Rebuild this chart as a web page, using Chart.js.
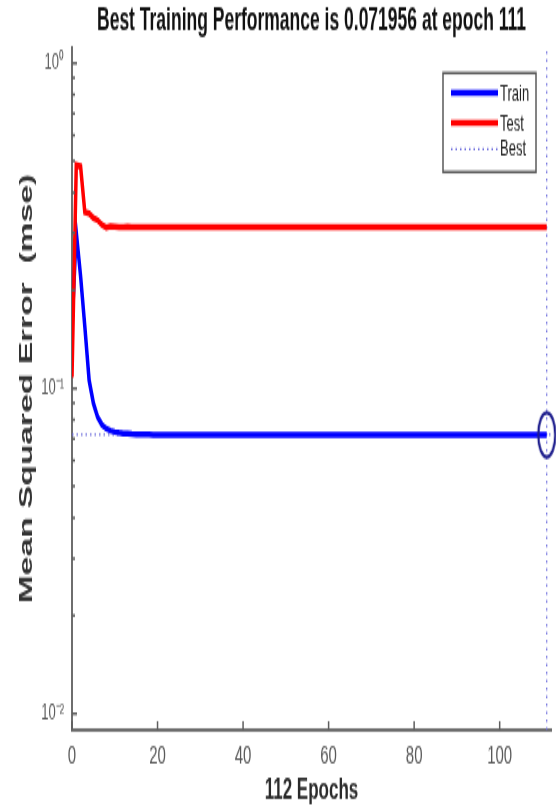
<!DOCTYPE html>
<html>
<head>
<meta charset="utf-8">
<title>Best Training Performance</title>
<script src="https://cdn.jsdelivr.net/npm/chart.js@4.4.1/dist/chart.umd.min.js"></script>
<style>
  html, body { margin: 0; padding: 0; background: #ffffff; }
</style>
</head>
<body>
<!-- the figure is laid out on a 556x456 canvas and shown stretched to 556x806 -->
<canvas id="perf" width="556" height="456" style="display:block;width:556px;height:806px;"></canvas>
<script>
// Mean squared error per epoch (epochs 0..111)
const trainPerf = [
  0.154, 0.302, 0.222, 0.155, 0.106, 0.090, 0.0815, 0.0772, 0.0752, 0.0741,
  0.0734, 0.0730, 0.0727, 0.0725, 0.0723, 0.0722, 0.0722, 0.0721, 0.0721, 0.0720,
  0.0720, 0.0720, 0.0720, 0.0720, 0.0720, 0.0720, 0.0720, 0.0720, 0.0720, 0.0720,
  0.0720, 0.0720, 0.0720, 0.0720, 0.0720, 0.07198, 0.07198, 0.07198, 0.07198, 0.07198,
  0.07198, 0.07198, 0.07198, 0.07198, 0.07198, 0.07198, 0.07198, 0.07198, 0.07198, 0.07198,
  0.07198, 0.07198, 0.07198, 0.07198, 0.07198, 0.07198, 0.07198, 0.07198, 0.07198, 0.07198,
  0.07197, 0.07197, 0.07197, 0.07197, 0.07197, 0.07197, 0.07197, 0.07197, 0.07197, 0.07197,
  0.07197, 0.07197, 0.07197, 0.07197, 0.07197, 0.07197, 0.07197, 0.07197, 0.07197, 0.07197,
  0.07197, 0.07197, 0.07197, 0.07197, 0.07197, 0.07197, 0.07197, 0.07197, 0.07197, 0.07197,
  0.07196, 0.07196, 0.07196, 0.07196, 0.07196, 0.07196, 0.07196, 0.07196, 0.07196, 0.07196,
  0.07196, 0.07196, 0.07196, 0.07196, 0.07196, 0.07196, 0.07196, 0.07196, 0.07196, 0.07196,
  0.07196, 0.071956
];
const testPerf = [
  0.108, 0.486, 0.482, 0.348, 0.345, 0.334, 0.329, 0.318, 0.312, 0.315,
  0.314, 0.313, 0.313, 0.314, 0.313, 0.313, 0.313, 0.313, 0.313, 0.313,
  0.313, 0.313, 0.313, 0.313, 0.313, 0.313, 0.313, 0.313, 0.313, 0.313,
  0.313, 0.313, 0.313, 0.313, 0.313, 0.313, 0.313, 0.313, 0.313, 0.313,
  0.313, 0.313, 0.313, 0.313, 0.313, 0.313, 0.313, 0.313, 0.313, 0.313,
  0.313, 0.313, 0.313, 0.313, 0.313, 0.313, 0.313, 0.313, 0.313, 0.313,
  0.313, 0.313, 0.313, 0.313, 0.313, 0.313, 0.313, 0.313, 0.313, 0.313,
  0.313, 0.313, 0.313, 0.313, 0.313, 0.313, 0.313, 0.313, 0.313, 0.313,
  0.313, 0.313, 0.313, 0.313, 0.313, 0.313, 0.313, 0.313, 0.313, 0.313,
  0.313, 0.313, 0.313, 0.313, 0.313, 0.313, 0.313, 0.313, 0.313, 0.313,
  0.313, 0.313, 0.313, 0.313, 0.313, 0.313, 0.313, 0.313, 0.313, 0.313,
  0.313, 0.313
];
const bestEpoch = 111;
const bestPerf = 0.071956;
const epochCount = 112;

// Axis ticks and limits
const xTicks = [0, 20, 40, 60, 80, 100];
const yMajorTicks = [0.01, 0.1, 1];
const yMajorLabels = ['10\u207B\u00B2', '10\u207B\u00B9', '10\u2070'];
const yMinorTicks = [0.02, 0.03, 0.04, 0.05, 0.06, 0.07, 0.08, 0.09,
                     0.2, 0.3, 0.4, 0.5, 0.6, 0.7, 0.8, 0.9];
const yLimits = [0.0089, 1.12];

const legendNames = ['Train', 'Test', 'Best'];

const FONT = "'Liberation Sans', Arial, Helvetica, sans-serif";
const BEST_COLOR = '#6c6cdc';

const toPoints = arr => arr.map((v, i) => ({ x: i, y: v }));

// open ellipse used as the best-epoch marker
const ring = document.createElement('canvas');
ring.width = 22; ring.height = 30;
(() => {
  const c = ring.getContext('2d');
  c.strokeStyle = '#1c1c8c';
  c.lineWidth = 2.2;
  c.beginPath();
  c.ellipse(11, 15, 8.5, 12.5, 0, 0, Math.PI * 2);
  c.stroke();
})();

// inward tick marks on both axes
const inwardTicks = {
  id: 'inwardTicks',
  afterDatasetsDraw(chart) {
    const { ctx, chartArea: a, scales: { x, y } } = chart;
    ctx.save();
    ctx.strokeStyle = '#5e5e5e';
    ctx.lineWidth = 1.5;
    ctx.beginPath();
    xTicks.forEach(v => {
      const px = x.getPixelForValue(v);
      ctx.moveTo(px, a.bottom); ctx.lineTo(px, a.bottom - 5);
    });
    yMajorTicks.forEach(v => {
      const py = y.getPixelForValue(v);
      ctx.moveTo(a.left, py); ctx.lineTo(a.left + 5, py);
    });
    yMinorTicks.forEach(v => {
      const py = y.getPixelForValue(v);
      ctx.moveTo(a.left, py); ctx.lineTo(a.left + 3, py);
    });
    ctx.stroke();
    ctx.restore();
  }
};

// boxed legend in the upper right corner of the axes
const boxLegend = {
  id: 'boxLegend',
  afterDraw(chart) {
    const { ctx, chartArea: a } = chart;
    const box = { x: a.right - 108, y: a.top + 14.7, w: 93, h: 56 };
    ctx.save();
    ctx.fillStyle = '#ffffff';
    ctx.fillRect(box.x, box.y, box.w, box.h);
    ctx.strokeStyle = '#5a5a5a';
    ctx.lineWidth = 1.5;
    ctx.strokeRect(box.x, box.y, box.w, box.h);
    const rows = [11.3, 28.3, 43];
    legendNames.forEach((name, i) => {
      const ds = chart.data.datasets.find(d => d.label === name);
      const yy = box.y + rows[i];
      ctx.beginPath();
      ctx.strokeStyle = ds.borderColor;
      ctx.lineWidth = ds.borderWidth;
      ctx.setLineDash(ds.borderDash || []);
      ctx.moveTo(box.x + 8, yy);
      ctx.lineTo(box.x + 55, yy);
      ctx.stroke();
      ctx.setLineDash([]);
      ctx.fillStyle = '#222222';
      ctx.font = '13px ' + FONT;
      ctx.textAlign = 'left';
      ctx.textBaseline = 'middle';
      ctx.fillText(name, box.x + 57, yy + 0.5);
    });
    ctx.restore();
  }
};

new Chart(document.getElementById('perf'), {
  type: 'line',
  data: {
    datasets: [
      {
        label: 'Test',
        data: toPoints(testPerf),
        borderColor: '#ff0000',
        borderWidth: 3.5,
        pointRadius: 0,
        tension: 0,
        order: 1
      },
      {
        label: 'Train',
        data: toPoints(trainPerf),
        borderColor: '#0000ff',
        borderWidth: 3.5,
        pointRadius: 0,
        tension: 0,
        order: 2
      },
      {
        label: 'Best',
        data: [{ x: 0, y: bestPerf }, { x: epochCount, y: bestPerf }],
        borderColor: BEST_COLOR,
        borderWidth: 1.2,
        borderDash: [1.5, 3],
        pointRadius: 0,
        order: 3
      },
      {
        label: 'Best epoch',
        data: [{ x: bestEpoch, y: yLimits[0] }, { x: bestEpoch, y: yLimits[1] }],
        borderColor: BEST_COLOR,
        borderWidth: 1.2,
        borderDash: [1.5, 3],
        pointRadius: 0,
        order: 3
      },
      {
        label: 'Best point',
        data: [{ x: bestEpoch, y: bestPerf }],
        showLine: false,
        pointStyle: ring,
        pointRadius: 10,
        borderColor: '#1c1c8c',
        clip: false,
        order: 0
      }
    ]
  },
  options: {
    responsive: false,
    devicePixelRatio: 1,
    animation: false,
    events: [],
    layout: { autoPadding: false, padding: { left: 0, right: 5, top: 0, bottom: 0 } },
    plugins: {
      legend: { display: false },
      tooltip: { enabled: false },
      title: {
        display: true,
        text: 'Best Training Performance is ' + bestPerf.toFixed(6) + ' at epoch ' + bestEpoch,
        fullSize: false,
        color: '#111111',
        font: { family: FONT, size: 17.5, weight: 'bold', lineHeight: 1.2 },
        padding: { top: 2, bottom: 3.6 }
      }
    },
    scales: {
      x: {
        type: 'linear',
        min: 0,
        max: epochCount,
        afterBuildTicks: s => { s.ticks = xTicks.map(v => ({ value: v })); },
        afterFit: s => { s.height = 43; s.paddingLeft = 0; s.paddingRight = 0; },
        grid: { display: false, drawTicks: false },
        border: { display: true, color: '#6e6e6e', width: 2 },
        ticks: {
          autoSkip: false,
          maxRotation: 0,
          padding: 6,
          color: '#5a5a5a',
          font: { family: FONT, size: 15 }
        },
        title: {
          display: true,
          text: epochCount + ' Epochs',
          color: '#2a2a2a',
          font: { family: FONT, size: 17, weight: 'bold', lineHeight: 1 },
          padding: { top: 0, bottom: 0.5 }
        }
      },
      y: {
        type: 'logarithmic',
        min: yLimits[0],
        max: yLimits[1],
        afterBuildTicks: s => { s.ticks = yMajorTicks.map(v => ({ value: v })); },
        afterFit: s => { s.width = 72; },
        grid: { display: false, drawTicks: false },
        border: { display: true, color: '#6e6e6e', width: 2 },
        ticks: {
          autoSkip: false,
          padding: 8,
          color: '#5a5a5a',
          font: { family: FONT, size: 13 },
          callback: v => {
            const i = yMajorTicks.findIndex(t => Math.abs(t - v) < 1e-9);
            return i >= 0 ? yMajorLabels[i] : '';
          }
        },
        title: {
          display: true,
          text: 'Mean Squared Error  (mse)',
          color: '#333333',
          font: { family: FONT, size: 19, weight: 'bold', lineHeight: 1.2 },
          padding: { top: 15, bottom: 0 }
        }
      }
    }
  },
  plugins: [inwardTicks, boxLegend]
});
</script>
</body>
</html>
